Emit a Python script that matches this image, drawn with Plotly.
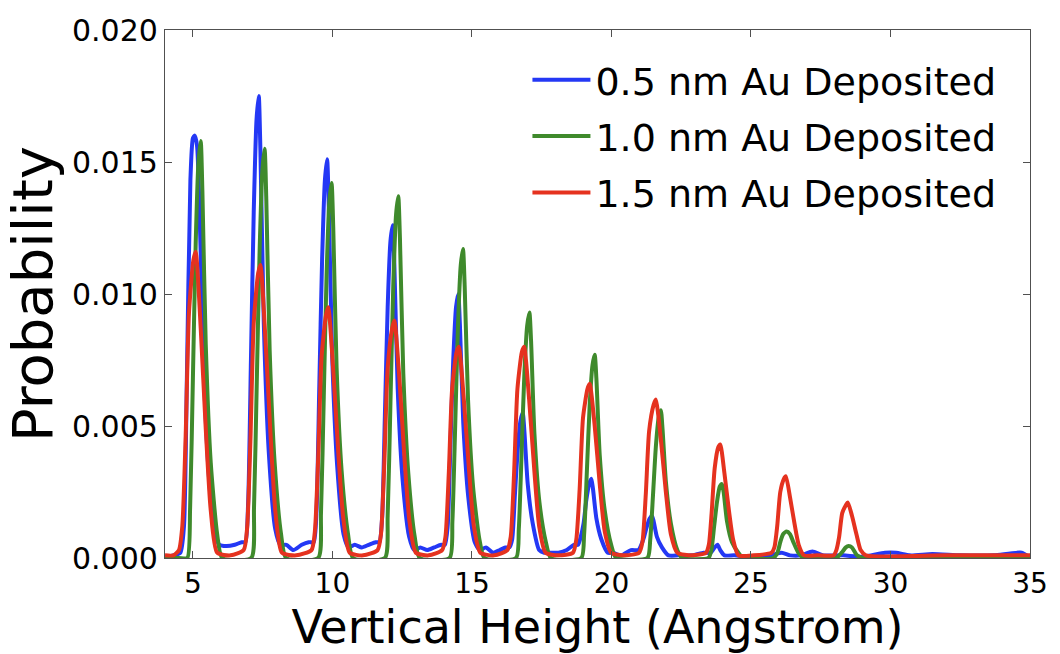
import plotly.graph_objects as go

# ---- data (x in Angstrom, y = probability) ----
blue_x = [4.00, 4.30, 4.55, 4.68, 4.78, 4.91, 5.00, 5.07, 5.15, 5.28, 5.40, 5.58, 5.76,
          5.95, 6.20, 6.50, 6.75,
          6.88, 6.98, 7.08, 7.18, 7.28, 7.36, 7.42, 7.54, 7.72, 7.95, 8.13,
          8.35, 8.60, 8.90, 9.15,
          9.33, 9.43, 9.53, 9.63, 9.73, 9.81, 9.87, 9.99, 10.17, 10.40, 10.58,
          10.80, 11.05, 11.30, 11.55,
          11.68, 11.78, 11.88, 11.98, 12.08, 12.16, 12.22, 12.34, 12.52, 12.75, 12.93,
          13.15, 13.40, 13.65, 13.90,
          14.03, 14.13, 14.23, 14.33, 14.43, 14.51, 14.57, 14.69, 14.87, 15.10, 15.28,
          15.50, 15.75, 16.00, 16.20,
          16.34, 16.44, 16.54, 16.64, 16.74, 16.82, 16.88, 17.00, 17.18, 17.41, 17.59,
          17.80, 18.10, 18.40, 18.65,
          18.80, 18.90, 19.00, 19.10, 19.20, 19.28, 19.34, 19.46, 19.64, 19.87, 20.05,
          20.35, 20.70,
          20.97, 21.07, 21.17, 21.27, 21.37, 21.45, 21.51, 21.63, 21.81, 22.04,
          22.40, 22.90, 23.30,
          23.55, 23.70, 23.80, 23.90, 24.05,
          24.40, 25.00, 25.70, 26.10, 26.40, 26.80, 27.20, 27.60, 28.30, 29.00,
          29.80, 30.20, 30.70, 31.50, 32.50, 33.70, 34.70, 35.00]
blue_y = [0.0000, 0.0001, 0.0002, 0.0012, 0.0065, 0.0143, 0.0159, 0.0160, 0.0156, 0.0115, 0.0068, 0.0030, 0.0010,
          0.0005, 0.00045, 0.0005, 0.0006,
          0.0006, 0.0021, 0.0075, 0.0131, 0.0166, 0.0175, 0.0154, 0.0089, 0.0040, 0.0011, 0.0005,
          0.0005, 0.0003, 0.0005, 0.0006,
          0.0006, 0.0018, 0.0065, 0.0113, 0.0143, 0.0151, 0.0133, 0.0077, 0.0035, 0.0009, 0.0004,
          0.0005, 0.0004, 0.0005, 0.0006,
          0.0006, 0.0015, 0.0054, 0.0095, 0.0120, 0.0126, 0.0111, 0.0064, 0.0029, 0.0008, 0.0003,
          0.0004, 0.0003, 0.0004, 0.0005,
          0.0005, 0.0012, 0.0043, 0.0075, 0.0095, 0.0100, 0.0088, 0.0051, 0.0023, 0.0006, 0.0003,
          0.0004, 0.0002, 0.0003, 0.0004,
          0.0004, 0.0007, 0.0024, 0.0041, 0.0052, 0.0055, 0.0048, 0.0028, 0.0013, 0.0003, 0.0002,
          0.0002, 0.0002, 0.0003, 0.0005,
          0.0005, 0.0008, 0.0013, 0.0022, 0.0028, 0.0030, 0.0026, 0.0015, 0.0007, 0.0002, 0.0002,
          0.0001, 0.0003,
          0.0003, 0.0005, 0.0008, 0.0012, 0.0015, 0.0016, 0.0014, 0.0008, 0.0004, 0.0001,
          0.0001, 0.0001, 0.0002,
          0.0002, 0.0004, 0.0005, 0.0003, 0.0001,
          0.0001, 0.00005, 0.0001, 0.0002, 0.0001, 0.0001, 0.00025, 0.0001, 0.0001, 0.00005,
          0.0002, 0.0002, 0.0001, 0.00015, 0.0001, 0.0001, 0.0002, 0.0000]

green_x = [4.00, 4.50,
           4.80, 4.90, 5.00, 5.10, 5.20, 5.28, 5.34, 5.46, 5.64, 5.87, 6.05,
           7.09, 7.19, 7.29, 7.39, 7.49, 7.57, 7.63, 7.75, 7.93, 8.16, 8.34,
           9.49, 9.59, 9.69, 9.79, 9.89, 9.97, 10.03, 10.15, 10.33, 10.56, 10.74,
           11.88, 11.98, 12.08, 12.18, 12.28, 12.36, 12.42, 12.54, 12.72, 12.95, 13.13,
           14.20, 14.30, 14.40, 14.50, 14.60, 14.68, 14.74, 14.86, 15.04, 15.27, 15.45,
           16.58, 16.68, 16.78, 16.88, 16.98, 17.06, 17.12, 17.24, 17.42, 17.65, 17.83,
           18.92, 19.02, 19.12, 19.22, 19.32, 19.40, 19.46, 19.58, 19.76, 19.99, 20.17,
           21.29, 21.39, 21.49, 21.59, 21.69, 21.77, 21.83, 21.95, 22.13, 22.36, 22.54,
           23.48, 23.58, 23.68, 23.78, 23.88, 23.96, 24.02, 24.14, 24.32, 24.55, 24.73,
           25.80, 25.95, 26.05, 26.15, 26.28, 26.40, 26.52, 26.70, 26.90,
           28.05, 28.25, 28.40, 28.50, 28.62, 28.80, 29.00,
           32.00, 35.00]
green_y = [0.0000, 0.0000,
           0.0000, 0.0019, 0.0068, 0.0119, 0.0150, 0.0158, 0.0139, 0.0081, 0.0036, 0.0009, 0.0000,
           0.0000, 0.0019, 0.0067, 0.0116, 0.0147, 0.0155, 0.0136, 0.0079, 0.0036, 0.0009, 0.0000,
           0.0000, 0.0017, 0.0061, 0.0107, 0.0135, 0.0142, 0.0125, 0.0072, 0.0033, 0.0009, 0.0000,
           0.0000, 0.0016, 0.0059, 0.0103, 0.0130, 0.0137, 0.0121, 0.0070, 0.0032, 0.0008, 0.0000,
           0.0000, 0.0014, 0.0050, 0.0088, 0.0111, 0.0117, 0.0103, 0.0060, 0.0027, 0.0007, 0.0000,
           0.0000, 0.0011, 0.0040, 0.0070, 0.0088, 0.0093, 0.0082, 0.0047, 0.0021, 0.0006, 0.0000,
           0.0000, 0.0009, 0.0033, 0.0058, 0.0073, 0.0077, 0.0068, 0.0039, 0.0018, 0.0005, 0.0000,
           0.0000, 0.0007, 0.0024, 0.0042, 0.0053, 0.0056, 0.0049, 0.0029, 0.0013, 0.0003, 0.0000,
           0.0000, 0.0003, 0.0012, 0.0021, 0.0027, 0.0028, 0.0025, 0.0014, 0.0006, 0.0002, 0.0000,
           0.0000, 0.0002, 0.0006, 0.0009, 0.0010, 0.0009, 0.0006, 0.0002, 0.0000,
           0.0000, 0.0002, 0.0004, 0.00045, 0.0004, 0.0001, 0.0000,
           0.0000, 0.0000]

red_x = [4.00, 4.30,
         4.50, 4.62, 4.74, 4.86, 5.02, 5.10, 5.28, 5.46, 5.64, 5.87, 6.35,
         6.82, 6.94, 7.06, 7.18, 7.34, 7.42, 7.60, 7.78, 7.96, 8.19, 8.70,
         9.25, 9.37, 9.49, 9.61, 9.77, 9.85, 10.03, 10.21, 10.39, 10.62, 11.10,
         11.62, 11.74, 11.86, 11.98, 12.14, 12.22, 12.40, 12.58, 12.76, 12.99, 13.45,
         13.93, 14.05, 14.17, 14.29, 14.45, 14.53, 14.71, 14.89, 15.07, 15.30, 15.80,
         16.27, 16.39, 16.51, 16.63, 16.79, 16.87, 17.05, 17.23, 17.41, 17.64, 18.10,
         18.62, 18.74, 18.86, 18.98, 19.14, 19.22, 19.40, 19.58, 19.76, 19.99, 20.50,
         20.99, 21.11, 21.23, 21.35, 21.51, 21.59, 21.77, 21.95, 22.13, 22.36, 22.90,
         23.39, 23.49, 23.59, 23.70, 23.83, 23.90, 24.05, 24.21, 24.36, 24.55, 25.10,
         25.74, 25.84, 25.94, 26.05, 26.18, 26.25, 26.40, 26.56, 26.71, 26.90, 27.40,
         27.96, 28.06, 28.16, 28.27, 28.40, 28.47, 28.62, 28.78, 28.93, 29.12,
         32.00, 35.00]
red_y = [0.0001, 0.0001,
         0.0003, 0.0012, 0.0046, 0.0093, 0.0113, 0.0116, 0.0087, 0.0049, 0.0018, 0.0002, 0.0001,
         0.0003, 0.0011, 0.0044, 0.0089, 0.0108, 0.0111, 0.0083, 0.0047, 0.0017, 0.0002, 0.0001,
         0.0003, 0.0010, 0.0038, 0.0076, 0.0092, 0.0095, 0.0071, 0.0040, 0.0015, 0.0002, 0.0001,
         0.0003, 0.0009, 0.0036, 0.0072, 0.0087, 0.0090, 0.0068, 0.0038, 0.0014, 0.0002, 0.0001,
         0.0003, 0.0008, 0.0032, 0.0064, 0.0078, 0.0080, 0.0060, 0.0034, 0.0012, 0.0002, 0.0001,
         0.0003, 0.0008, 0.0032, 0.0064, 0.0078, 0.0080, 0.0060, 0.0034, 0.0012, 0.0002, 0.0001,
         0.0002, 0.0007, 0.0026, 0.0053, 0.0064, 0.0066, 0.0050, 0.0028, 0.0010, 0.0002, 0.0001,
         0.0002, 0.0006, 0.0024, 0.0048, 0.0058, 0.0060, 0.0045, 0.0025, 0.0009, 0.0002, 0.0001,
         0.0002, 0.0005, 0.0017, 0.0034, 0.0042, 0.0043, 0.0032, 0.0018, 0.0007, 0.0001, 0.0001,
         0.0002, 0.0004, 0.0012, 0.0025, 0.0030, 0.0031, 0.0023, 0.0013, 0.0005, 0.0001, 0.0001,
         0.0001, 0.0003, 0.0008, 0.0017, 0.0020, 0.0021, 0.0016, 0.0009, 0.0003, 0.0001,
         0.0001, 0.0001]

series_names = ["0.5 nm Au Deposited", "1.0 nm Au Deposited", "1.5 nm Au Deposited"]
series_colors = ["#2438f5", "#3f8a2c", "#e5321f"]
x_ticks = [5, 10, 15, 20, 25, 30, 35]
y_ticks = [0.000, 0.005, 0.010, 0.015, 0.020]
y_tick_text = ["0.000", "0.005", "0.010", "0.015", "0.020"]

FONT = "DejaVu Sans"

fig = go.Figure()
for xs, ys, name, color, grp in zip([blue_x, green_x, red_x], [blue_y, green_y, red_y],
                                     series_names, series_colors, ["a", "b", "c"]):
    fig.add_trace(go.Scatter(
        x=xs, y=ys, mode="lines", name=name, legendgroup=grp,
        line=dict(color=color, width=4, shape="spline", smoothing=0.6),
    ))

axis_common = dict(
    showline=True, linecolor="#505050", linewidth=1.3, mirror="ticks",
    ticks="inside", ticklen=7, tickwidth=1.2, tickcolor="#505050",
    showgrid=False, zeroline=False,
)

fig.update_layout(
    width=1060, height=654,
    margin=dict(l=165, r=25, t=30, b=93),
    paper_bgcolor="white", plot_bgcolor="white",
    font=dict(family=FONT, color="black"),
    xaxis=dict(range=[4, 35], tickvals=x_ticks, automargin=True,
               tickfont=dict(family=FONT, size=28, color="black"),
               title=dict(text="Vertical Height (Angstrom)", font=dict(family=FONT, size=46), standoff=10),
               **axis_common),
    yaxis=dict(range=[0, 0.020], tickvals=y_ticks, ticktext=y_tick_text,
               tickfont=dict(family=FONT, size=30, color="black"),
               title=dict(text="Probability", font=dict(family=FONT, size=56), standoff=6),
               **axis_common),
    legend=dict(x=0.419, y=0.965, xanchor="left", yanchor="top",
                font=dict(family=FONT, size=38, color="black"),
                bgcolor="rgba(0,0,0,0)", itemwidth=58, tracegroupgap=4,
                traceorder="grouped"),
    showlegend=True,
)

fig.write_html("out.html")
